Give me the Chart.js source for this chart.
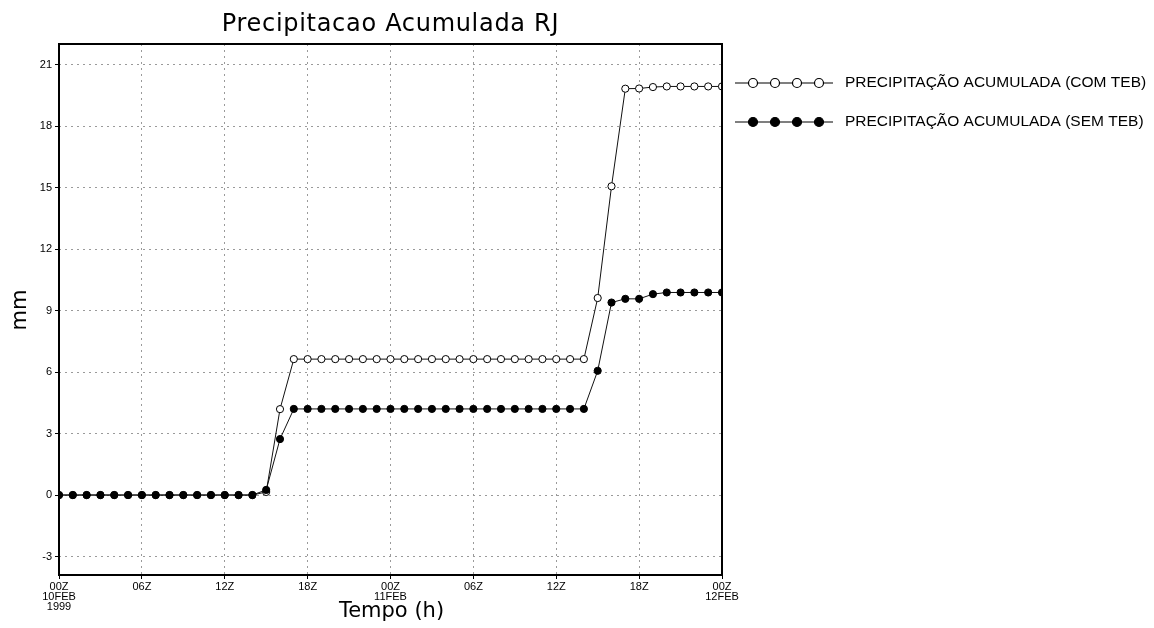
<!DOCTYPE html>
<html>
<head>
<meta charset="utf-8">
<script src="https://cdn.jsdelivr.net/npm/chart.js@4"></script>
<style>
    body { margin: 0; background: #fff; }
    canvas { display: block; }
</style>
</head>
<body>
<canvas id="chart" width="1154" height="628"></canvas>
<script>
// hours since 00Z 10FEB1999
const hours = [0, 1, 2, 3, 4, 5, 6, 7, 8, 9, 10, 11, 12, 13, 14, 15, 16, 17, 18, 19, 20, 21, 22, 23, 24,
    25, 26, 27, 28, 29, 30, 31, 32, 33, 34, 35, 36, 37, 38, 39, 40, 41, 42, 43, 44, 45, 46, 47, 48];

const comTeb = [0, 0, 0, 0, 0, 0, 0, 0, 0, 0, 0, 0, 0, 0, 0, 0.15, 4.19, 6.63, 6.63, 6.63, 6.63, 6.63, 6.63, 6.63, 6.63,
    6.63, 6.63, 6.63, 6.63, 6.63, 6.63, 6.63, 6.63, 6.63, 6.63, 6.63, 6.63, 6.63, 6.63, 9.61, 15.06, 19.82, 19.83, 19.9, 19.93, 19.93, 19.93, 19.93, 19.93];

const semTeb = [0, 0, 0, 0, 0, 0, 0, 0, 0, 0, 0, 0, 0, 0, 0, 0.25, 2.73, 4.2, 4.2, 4.2, 4.2, 4.2, 4.2, 4.2, 4.2,
    4.2, 4.2, 4.2, 4.2, 4.2, 4.2, 4.2, 4.2, 4.2, 4.2, 4.2, 4.2, 4.2, 4.2, 6.06, 9.39, 9.57, 9.57, 9.8, 9.88, 9.88, 9.88, 9.88, 9.88];

const seriesNames = ["PRECIPITAÇÃO ACUMULADA (COM TEB)", "PRECIPITAÇÃO ACUMULADA (SEM TEB)"];

const yTicks = [-3, 0, 3, 6, 9, 12, 15, 18, 21];
const xTicks = [0, 6, 12, 18, 24, 30, 36, 42, 48];
const xTickLabels = [["00Z", "10FEB", "1999"], "06Z", "12Z", "18Z", ["00Z", "11FEB"], "06Z", "12Z", "18Z", ["00Z", "12FEB"]];

const chartTitle = "Precipitacao Acumulada RJ";
const xTitle = "Tempo (h)";
const yTitle = "mm";

const toPoints = (vals) => hours.map((h, i) => ({ x: h, y: vals[i] }));

//draws title, axis titles, frame and legend the way grads does
const gradsDecor = {
    id: "gradsDecor",
    afterDraw(chart) {
        const ctx = chart.ctx;
        const area = chart.chartArea;
        const cx = (area.left + area.right) / 2;

        ctx.save();
        ctx.fillStyle = "#000";
        ctx.textAlign = "center";
        ctx.textBaseline = "alphabetic";
        ctx.font = "24px 'DejaVu Sans'";
        ctx.letterSpacing = "0.7px";
        ctx.fillText(chartTitle, cx, 31);
        ctx.letterSpacing = "0px";
        ctx.font = "21px 'DejaVu Sans'";
        ctx.fillText(xTitle, cx + 1, 617);

        ctx.translate(26, 310);
        ctx.rotate(-Math.PI / 2);
        ctx.fillText(yTitle, 0, 0);
        ctx.restore();

        // frame
        ctx.save();
        ctx.strokeStyle = "#000";
        ctx.lineWidth = 2;
        ctx.strokeRect(area.left, area.top, area.right - area.left, area.bottom - area.top);
        ctx.restore();

        // legend
        const rows = [83, 122];
        const marks = [753, 775, 797, 819];
        chart.data.datasets.forEach((ds, i) => {
            const y = rows[i];
            ctx.save();
            ctx.strokeStyle = "#000";
            ctx.lineWidth = 1.2;
            ctx.beginPath();
            ctx.moveTo(735, y);
            ctx.lineTo(833, y);
            ctx.stroke();
            marks.forEach((mx) => {
                ctx.beginPath();
                ctx.arc(mx, y, 4.5, 0, Math.PI * 2);
                ctx.fillStyle = ds.pointBackgroundColor;
                ctx.fill();
                ctx.stroke();
            });
            ctx.fillStyle = "#000";
            ctx.font = "15.5px 'Liberation Sans'";
            ctx.textBaseline = "middle";
            ctx.textAlign = "left";
            ctx.fillText(seriesNames[i], 845, y);
            ctx.restore();
        });
    },
};

const gridStyle = {
    color: "#9a9a9a",
    lineWidth: 1,
    tickColor: "#000",
    tickLength: 4,
    tickBorderDash: [],
};

new Chart(document.getElementById("chart"), {
    type: "line",
    data: {
        datasets: [
            {
                label: seriesNames[0],
                data: toPoints(comTeb),
                order: 1,
                borderColor: "#111",
                borderWidth: 1,
                pointBackgroundColor: "#fff",
                pointBorderColor: "#000",
                pointBorderWidth: 1,
                pointRadius: 3.6,
                tension: 0,
            },
            {
                label: seriesNames[1],
                data: toPoints(semTeb),
                order: 0,
                borderColor: "#111",
                borderWidth: 1,
                pointBackgroundColor: "#000",
                pointBorderColor: "#000",
                pointBorderWidth: 1,
                pointRadius: 3.6,
                tension: 0,
            },
        ],
    },
    options: {
        responsive: false,
        animation: false,
        layout: { padding: { left: 0, right: 432, top: 44, bottom: 0 } },
        plugins: {
            legend: { display: false },
            tooltip: { enabled: false },
            title: { display: false },
        },
        scales: {
            x: {
                type: "linear",
                min: 0,
                max: 48,
                afterFit: (scale) => { scale.height = 53; },
                afterBuildTicks: (scale) => { scale.ticks = xTicks.map((v) => ({ value: v })); },
                ticks: {
                    color: "#000",
                    font: { family: "'Liberation Sans'", size: 11, lineHeight: 0.92 },
                    padding: 3,
                    maxRotation: 0,
                    autoSkip: false,
                    callback: (v) => xTickLabels[xTicks.indexOf(v)],
                },
                grid: gridStyle,
                border: { display: false, dash: [2, 4] },
            },
            y: {
                min: -3.9,
                max: 22,
                afterFit: (scale) => { scale.width = 59; },
                afterBuildTicks: (scale) => { scale.ticks = yTicks.map((v) => ({ value: v })); },
                ticks: {
                    color: "#000",
                    font: { family: "'Liberation Sans'", size: 11 },
                    padding: 3,
                    autoSkip: false,
                },
                grid: gridStyle,
                border: { display: false, dash: [2, 4] },
            },
        },
    },
    plugins: [gradsDecor],
});
</script>
</body>
</html>
